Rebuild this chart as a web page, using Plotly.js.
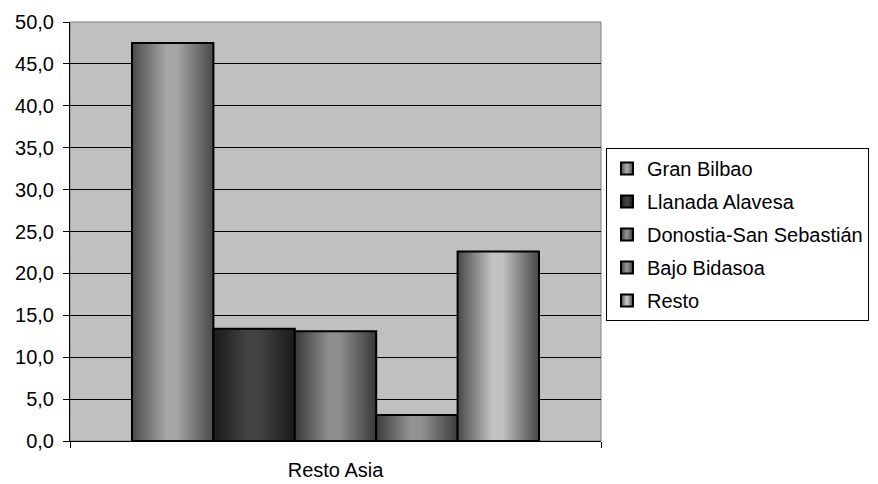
<!DOCTYPE html>
<html>
<head>
<meta charset="utf-8">
<script src="https://cdn.plot.ly/plotly-3.0.1.min.js"></script>
<style>html,body{margin:0;padding:0;background:#fff;}#chart{width:878px;height:484px;}</style>
</head>
<body>
<div id="chart"></div>
<script>
const categories = ["Resto Asia"];
const seriesNames = ["Gran Bilbao", "Llanada Alavesa", "Donostia-San Sebastián", "Bajo Bidasoa", "Resto"];
const seriesValues = [[47.5], [13.4], [13.1], [3.1], [22.6]];
const baseColors = ["#8c8c8c", "#2e2e2e", "#707070", "#727272", "#9a9a9a"];
const gradEdge = ["#4a4a4a", "#1a1a1a", "#383838", "#3c3c3c", "#484848"];
const gradCenter = ["#a6a6a6", "#434343", "#8e8e8e", "#929292", "#c2c2c2"];
const yTicks = [0, 5, 10, 15, 20, 25, 30, 35, 40, 45, 50];

const FONT = "Liberation Sans, Arial, sans-serif";
const FS = 20;

const traces = seriesNames.map((name, i) => ({
  type: "bar",
  name: name,
  x: categories,
  y: seriesValues[i],
  legendgroup: "g" + i,
  marker: { color: baseColors[i], line: { color: "#000", width: 2 } },
  hoverinfo: "none"
}));

const layout = {
  width: 878, height: 484,
  margin: { l: 70, r: 277, t: 22, b: 43, pad: 0, autoexpand: false },
  paper_bgcolor: "#ffffff",
  plot_bgcolor: "#c0c0c0",
  separators: ",.",
  font: { family: FONT, size: FS, color: "#000" },
  barmode: "group",
  bargap: 0.2335,
  bargroupgap: 0,
  showlegend: true,
  legend: {
    x: 1.0094, xanchor: "left", y: 0.699, yanchor: "top",
    bgcolor: "#ffffff", bordercolor: "#000", borderwidth: 1,
    font: { family: FONT, size: FS, color: "#000" },
    traceorder: "grouped", tracegroupgap: 4,
    itemwidth: 30
  },
  xaxis: {
    type: "category",
    tickson: "boundaries",
    ticks: "outside", ticklen: 6, tickcolor: "#000", tickwidth: 1,
    showline: true, linecolor: "#000", linewidth: 1,
    showgrid: false, zeroline: false,
    tickfont: { family: FONT, size: FS, color: "#000" },
    ticklabelstandoff: 11,
    automargin: false,
    fixedrange: true
  },
  yaxis: {
    range: [0, 50],
    tickvals: yTicks,
    tickformat: ".1f",
    ticks: "outside", ticklen: 6, tickcolor: "#000", tickwidth: 1,
    showline: true, linecolor: "#000", linewidth: 1,
    showgrid: true, gridcolor: "#000", gridwidth: 1,
    zeroline: false,
    tickfont: { family: FONT, size: FS, color: "#000" },
    ticklabelstandoff: 5,
    automargin: false,
    fixedrange: true
  },
  shapes: [{
    type: "rect", xref: "paper", yref: "paper", x0: 0, x1: 1, y0: 0, y1: 1,
    line: { color: "#808080", width: 1 }, fillcolor: "rgba(0,0,0,0)", layer: "below"
  }]
};

Plotly.newPlot("chart", traces, layout, { displayModeBar: false, staticPlot: true }).then(gd => {
  const svg = gd.querySelector(".main-svg");
  let defs = svg.querySelector("defs");
  if (!defs) { defs = document.createElementNS("http://www.w3.org/2000/svg", "defs"); svg.insertBefore(defs, svg.firstChild); }
  const NS = "http://www.w3.org/2000/svg";
  seriesNames.forEach((n, i) => {
    const lg = document.createElementNS(NS, "linearGradient");
    lg.setAttribute("id", "barGrad" + i);
    lg.setAttribute("x1", "0"); lg.setAttribute("x2", "1");
    lg.setAttribute("y1", "0"); lg.setAttribute("y2", "0");
    [[0, gradEdge[i]], [0.42, gradCenter[i]], [0.55, gradCenter[i]], [1, gradEdge[i]]].forEach(([o, c]) => {
      const s = document.createElementNS(NS, "stop");
      s.setAttribute("offset", o); s.setAttribute("stop-color", c);
      lg.appendChild(s);
    });
    defs.appendChild(lg);
  });
  gd.querySelectorAll(".barlayer .trace").forEach((t, i) => {
    t.querySelectorAll("path").forEach(p => { p.style.fill = "url(#barGrad" + i + ")"; });
  });
  gd.querySelectorAll(".legend .traces").forEach((t, i) => {
    t.querySelectorAll(".legendpoints path").forEach(p => { p.style.fill = "url(#barGrad" + i + ")"; });
  });
});
</script>
</body>
</html>
